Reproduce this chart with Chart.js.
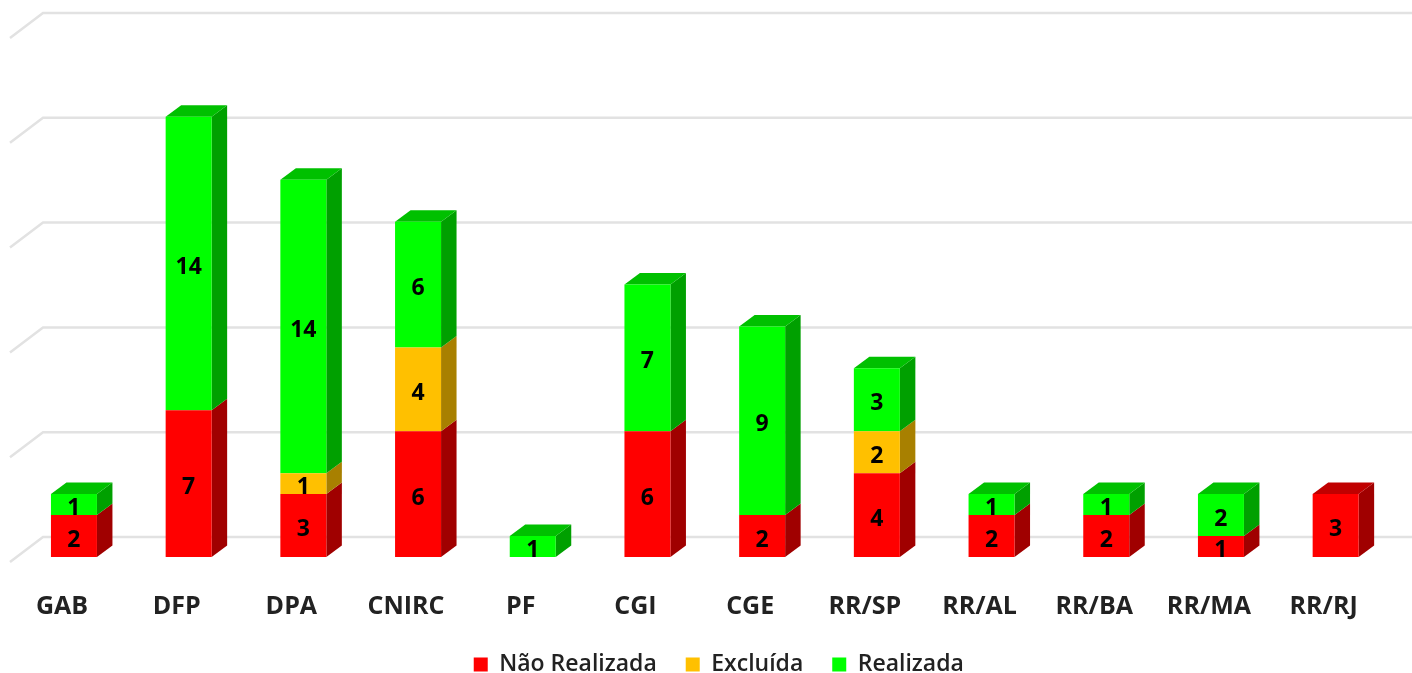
<!DOCTYPE html>
<html>
<head>
<meta charset="utf-8">
<style>
  html, body { margin: 0; padding: 0; background: #fff; overflow: hidden; }
  canvas { display: block; }
</style>
<script src="https://cdn.jsdelivr.net/npm/chart.js@4"></script>
</head>
<body>
<canvas id="chart" width="1412" height="673" style="width:1412px;height:673px"></canvas>
<script>
const categories = ["GAB", "DFP", "DPA", "CNIRC", "PF", "CGI", "CGE", "RR/SP", "RR/AL", "RR/BA", "RR/MA", "RR/RJ"];
const naoRealizada = [2, 7, 3, 6, 0, 6, 2, 4, 2, 2, 1, 3];
const excluida = [0, 0, 1, 4, 0, 0, 0, 2, 0, 0, 0, 0];
const realizada = [1, 14, 14, 6, 1, 7, 9, 3, 1, 1, 2, 0];

const fontName = '"Open Sans", "Noto Sans", sans-serif';

// colours: front, top, side
const RED = ["#ff0000", "#c00000", "#a00000"];
const ORANGE = ["#ffc000", "#c09000", "#a88000"];
const GREEN = ["#00ff00", "#00c000", "#00a000"];

const BAR_DX = 15.5;
const BAR_DY = 11.5;

function poly(ctx, pts, color) {
    ctx.fillStyle = color;
    ctx.beginPath();
    pts.forEach((p, i) => i ? ctx.lineTo(p[0], p[1]) : ctx.moveTo(p[0], p[1]));
    ctx.closePath();
    ctx.fill();
}

// the back wall grid and the depth of the bars
const fake3d = {
    id: "fake3d",
    afterLayout(chart) {
        // legend sits a bit right of the plot centre
        chart.legend.left += 14;
        chart.legend.right += 14;
    },
    beforeDatasetsDraw(chart) {
        const ctx = chart.ctx;
        const y = chart.scales.y;
        ctx.save();
        ctx.strokeStyle = "#e2e2e2";
        ctx.lineWidth = 2.5;
        y.ticks.forEach(t => {
            const py = y.getPixelForValue(t.value);
            ctx.beginPath();
            ctx.moveTo(10, py + 5);
            ctx.lineTo(43, py - 20);
            ctx.lineTo(1412, py - 20);
            ctx.stroke();
        });

        categories.forEach((c, j) => {
            let topSeg = -1;
            chart.data.datasets.forEach((ds, i) => {
                if (!ds.data[j]) return;
                topSeg = i;
                const bar = chart.getDatasetMeta(i).data[j];
                const r = bar.x + bar.width / 2;
                poly(ctx, [[r, bar.y], [r + BAR_DX, bar.y - BAR_DY], [r + BAR_DX, bar.base - BAR_DY], [r, bar.base]], ds.shades[2]);
            });
            const bar = chart.getDatasetMeta(topSeg).data[j];
            const l = bar.x - bar.width / 2;
            const r = bar.x + bar.width / 2;
            poly(ctx, [[l, bar.y], [l + BAR_DX, bar.y - BAR_DY], [r + BAR_DX, bar.y - BAR_DY], [r, bar.y]], chart.data.datasets[topSeg].shades[1]);
        });
        ctx.restore();
    },
    afterDatasetsDraw(chart) {
        const ctx = chart.ctx;
        ctx.save();
        ctx.fillStyle = "#000";
        ctx.font = "700 23px " + fontName;
        ctx.textAlign = "center";
        ctx.textBaseline = "middle";
        chart.data.datasets.forEach((ds, i) => {
            chart.getDatasetMeta(i).data.forEach((bar, j) => {
                if (!ds.data[j]) return;
                ctx.fillText(ds.data[j], bar.x, (bar.y + bar.base) / 2 + 4);
            });
        });
        ctx.restore();
    }
};

new Chart(document.getElementById("chart"), {
    type: "bar",
    data: {
        labels: categories,
        datasets: [
            { label: "Não Realizada", data: naoRealizada, backgroundColor: RED[0], shades: RED },
            { label: "Excluída", data: excluida, backgroundColor: ORANGE[0], shades: ORANGE },
            { label: "Realizada", data: realizada, backgroundColor: GREEN[0], shades: GREEN }
        ]
    },
    options: {
        responsive: false,
        animation: false,
        devicePixelRatio: 1,
        barPercentage: 1,
        categoryPercentage: 0.401,
        layout: { padding: { left: 16.6, right: 19, top: 33, bottom: -13 } },
        scales: {
            x: {
                stacked: true,
                afterFit(scale) { scale.height = 67; },
                grid: { display: false },
                border: { display: false },
                ticks: {
                    color: "#222",
                    padding: 27,
                    labelOffset: -12,
                    maxRotation: 0,
                    autoSkip: false,
                    font: { family: fontName, size: 25, weight: "700" }
                }
            },
            y: {
                stacked: true,
                min: 0,
                max: 25,
                afterFit(scale) { scale.width = 0; },
                grid: { display: false },
                border: { display: false },
                ticks: { stepSize: 5, display: false }
            }
        },
        plugins: {
            tooltip: { enabled: false },
            legend: {
                position: "bottom",
                labels: {
                    boxWidth: 14,
                    boxHeight: 14,
                    padding: 29,
                    color: "#222",
                    font: { family: fontName, size: 23, weight: "600" }
                }
            }
        }
    },
    plugins: [fake3d]
});
</script>
</body>
</html>
